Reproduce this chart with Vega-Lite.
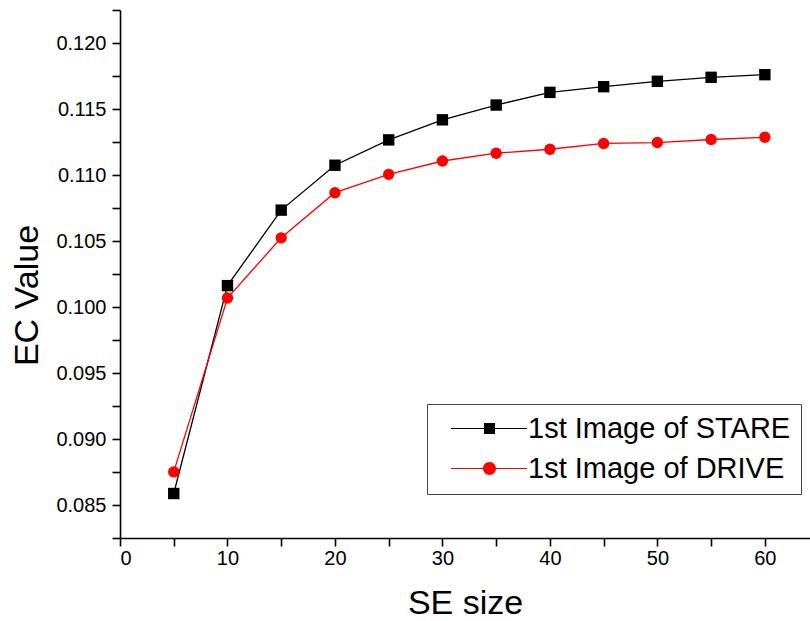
{
  "$schema": "https://vega.github.io/schema/vega-lite/v6.json",
  "width": 690,
  "height": 528,
  "autosize": "none",
  "padding": {"left": 120, "top": 10, "right": 0, "bottom": 83},
  "background": "white",
  "config": {
    "view": {"stroke": null},
    "font": "Liberation Sans",
    "axis": {
      "labelFont": "Liberation Sans",
      "titleFont": "Liberation Sans",
      "labelColor": "black",
      "titleColor": "black",
      "domainColor": "black",
      "tickColor": "black",
      "domainWidth": 1.6,
      "tickWidth": 1.6,
      "tickSize": 8,
      "grid": false,
      "titleFontWeight": "normal",
      "labelFontSize": 20
    }
  },
  "data": {
    "values": [
      {"x": 5, "y": 0.08587, "s": "1st Image of STARE"},
      {"x": 10, "y": 0.10162, "s": "1st Image of STARE"},
      {"x": 15, "y": 0.10734, "s": "1st Image of STARE"},
      {"x": 20, "y": 0.11074, "s": "1st Image of STARE"},
      {"x": 25, "y": 0.11266, "s": "1st Image of STARE"},
      {"x": 30, "y": 0.11418, "s": "1st Image of STARE"},
      {"x": 35, "y": 0.1153, "s": "1st Image of STARE"},
      {"x": 40, "y": 0.11626, "s": "1st Image of STARE"},
      {"x": 45, "y": 0.11669, "s": "1st Image of STARE"},
      {"x": 50, "y": 0.1171, "s": "1st Image of STARE"},
      {"x": 55, "y": 0.1174, "s": "1st Image of STARE"},
      {"x": 60, "y": 0.1176, "s": "1st Image of STARE"},
      {"x": 5, "y": 0.08751, "s": "1st Image of DRIVE"},
      {"x": 10, "y": 0.10068, "s": "1st Image of DRIVE"},
      {"x": 15, "y": 0.10524, "s": "1st Image of DRIVE"},
      {"x": 20, "y": 0.10866, "s": "1st Image of DRIVE"},
      {"x": 25, "y": 0.11005, "s": "1st Image of DRIVE"},
      {"x": 30, "y": 0.11106, "s": "1st Image of DRIVE"},
      {"x": 35, "y": 0.11165, "s": "1st Image of DRIVE"},
      {"x": 40, "y": 0.11195, "s": "1st Image of DRIVE"},
      {"x": 45, "y": 0.11239, "s": "1st Image of DRIVE"},
      {"x": 50, "y": 0.11246, "s": "1st Image of DRIVE"},
      {"x": 55, "y": 0.11269, "s": "1st Image of DRIVE"},
      {"x": 60, "y": 0.11286, "s": "1st Image of DRIVE"}
    ]
  },
  "encoding": {
    "x": {
      "field": "x",
      "type": "quantitative",
      "scale": {"domain": [0, 64.2], "nice": false, "zero": false},
      "axis": {
        "title": "SE size",
        "titleFontSize": 34,
        "values": [0, 5, 10, 15, 20, 25, 30, 35, 40, 45, 50, 55, 60],
        "labelExpr": "datum.value % 10 == 0 ? datum.label : ''",
        "labelPadding": 2,
        "titleBaseline": "middle",
        "titleY": 65
      }
    },
    "y": {
      "field": "y",
      "type": "quantitative",
      "scale": {"domain": [0.0825, 0.1225], "nice": false, "zero": false},
      "axis": {
        "title": "EC Value",
        "titleFontSize": 34,
        "values": [0.0825, 0.085, 0.0875, 0.09, 0.0925, 0.095, 0.0975, 0.1, 0.1025, 0.105, 0.1075, 0.11, 0.1125, 0.115, 0.1175, 0.12, 0.1225],
        "labelExpr": "round(datum.value*2000) % 10 == 0 && datum.value > 0.083 ? format(datum.value, '.3f') : ''",
        "labelPadding": 6,
        "titleAngle": -90,
        "titleBaseline": "middle",
        "titleAlign": "center",
        "titleX": -93,
        "titleY": 285
      }
    },
    "color": {
      "field": "s",
      "type": "nominal",
      "scale": {"domain": ["1st Image of STARE", "1st Image of DRIVE"], "range": ["#000000", "#ff0000"]},
      "legend": {
        "title": null,
        "orient": "none",
        "legendX": 307,
        "legendY": 394,
        "labelFont": "Liberation Sans",
        "labelFontSize": 29,
        "labelColor": "black",
        "labelLimit": 0,
        "padding": 10,
        "rowPadding": 10,
        "symbolSize": 100,
        "symbolOffset": 38,
        "labelOffset": 24,
        "strokeColor": "#444444",
        "fillColor": "white",
        "encode": {
          "symbols": {
            "update": {
              "shape": {"signal": "datum.value == '1st Image of STARE' ? 'M-7.7,-0.11H-1V0.11H-7.7Z M1,-0.11H7.5V0.11H1Z M-1.1,-1.1H1.1V1.1H-1.1Z' : 'M-7.7,-0.11H-1.2V0.11H-7.7Z M1.2,-0.11H7.5V0.11H1.2Z M-1.3,0A1.3,1.3,0,1,1,1.3,0A1.3,1.3,0,1,1,-1.3,0Z'"},
              "fill": {"signal": "datum.value == '1st Image of STARE' ? '#000000' : '#ff0000'"},
              "fillOpacity": {"value": 1},
              "strokeWidth": {"value": 0}
            }
          }
        }
      }
    }
  },
  "layer": [
    {
      "mark": {"type": "line", "strokeWidth": 1.3}
    },
    {
      "transform": [{"filter": "datum.s == '1st Image of STARE'"}],
      "mark": {"type": "point", "filled": true, "size": 130, "opacity": 1, "shape": "square"}
    },
    {
      "transform": [{"filter": "datum.s == '1st Image of DRIVE'"}],
      "mark": {"type": "point", "filled": true, "size": 130, "opacity": 1, "shape": "circle"}
    }
  ]
}
